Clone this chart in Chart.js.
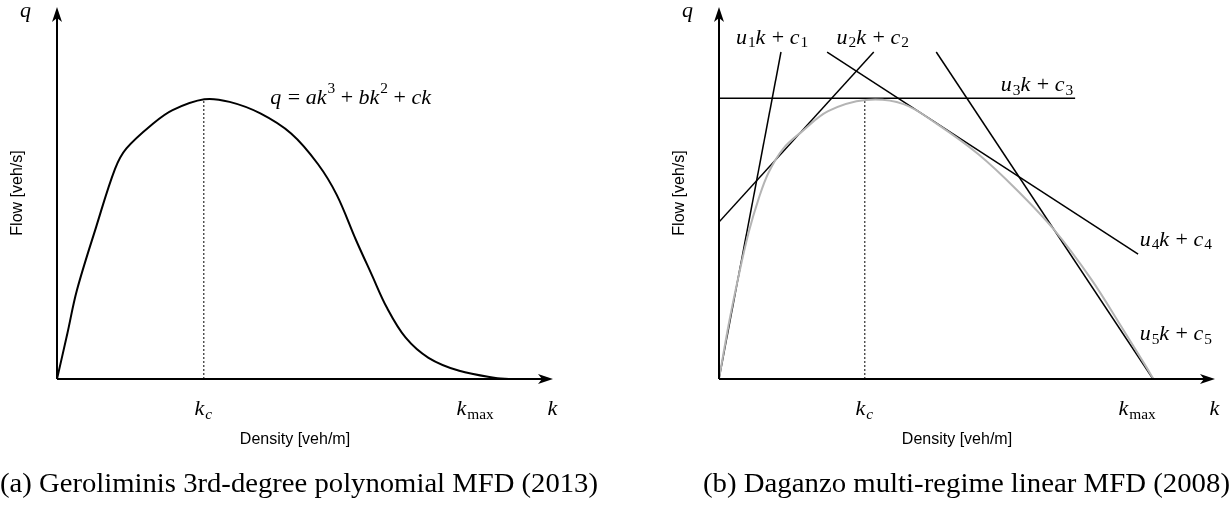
<!DOCTYPE html>
<html>
<head>
<meta charset="utf-8">
<script src="https://cdn.jsdelivr.net/npm/chart.js@4/dist/chart.umd.min.js"></script>
<style>
    html, body { margin: 0; padding: 0; background: #fff; }
    #wrap { position: relative; width: 1230px; height: 506px; overflow: hidden; }
    canvas { position: absolute; top: 0; }
    #left { left: 0; }
    #right { left: 615px; }
</style>
</head>
<body>
<div id="wrap">
    <canvas id="left" width="615" height="506"></canvas>
    <canvas id="right" width="615" height="506"></canvas>
</div>
<script>
// density k (0..100 = arrow tip) and flow q (0..100 = arrow tip)

// (a) cubic MFD
const polyK = [0, 2.1, 4.0, 7.9, 11.7, 14.0, 19.4, 23.3, 29.7, 34.8, 41.0, 47.2, 52.6, 56.4, 60.3, 63.4, 66.5, 70.3, 74.9, 81.1, 88.8, 91.1]
const polyQ = [0, 12.3, 23.8, 40.9, 56.5, 62.0, 68.7, 72.3, 75.2, 74.5, 71.4, 66.0, 57.8, 49.5, 37.3, 28.2, 19.2, 11.1, 5.7, 2.2, 0.2, 0]
const polyKc = 29.6
const polyQmax = 75.2

// (b) multi-regime linear MFD, grey reference curve
const grayK = [0, 2.0, 4.0, 6.0, 8.0, 10.0, 13.0, 16.7, 22.0, 29.6, 37.2, 44.0, 52.3, 59.9, 67.5, 75.1, 81.1, 85.7, 87.6]
const grayQ = [0, 15.0, 28.0, 39.5, 48.5, 55.5, 62.0, 66.5, 72.0, 75.0, 73.9, 68.5, 60.4, 51.0, 40.2, 26.7, 14.1, 4.2, 0]
const grayKc = 29.4
const grayQmax = 75.0

// regime lines u_i k + c_i, drawn as segments
const regimeStartK = [0, 0, 0, 21.8, 43.8]
const regimeStartQ = [0, 42.2, 75.5, 87.9, 87.9]
const regimeEndK = [12.5, 31.2, 71.8, 84.5, 87.5]
const regimeEndQ = [87.9, 87.9, 75.5, 33.6, 0]

const xTitle = 'Density [veh/m]'
const yTitle = 'Flow [veh/s]'
const captionA = '(a) Geroliminis 3rd-degree polynomial MFD (2013)'
const captionB = '(b) Daganzo multi-regime linear MFD (2008)'

const MATH = 'Liberation Serif'

function toPoints(xs, ys) {
    return xs.map((x, i) => ({ x: x, y: ys[i] }))
}

// draws a list of text runs centred on (cx, cy)
function drawRuns(ctx, runs, cx, cy, size) {
    let total = 0
    const parts = runs.map(r => {
        const sz = r.sub || r.sup ? size * 0.7 : size
        const font = (r.it ? 'italic ' : '') + sz + 'px "' + MATH + '"'
        ctx.font = font
        const w = ctx.measureText(r.t).width + (r.it ? 1 : 0)
        total += w
        return { t: r.t, font: font, w: w, dy: r.sub ? size * 0.25 : (r.sup ? -size * 0.38 : 0) }
    })
    let x = cx - total / 2
    ctx.textAlign = 'left'
    ctx.textBaseline = 'middle'
    parts.forEach(p => {
        ctx.font = p.font
        ctx.fillText(p.t, x, cy + p.dy)
        x += p.w
    })
}

function arrow(ctx, x, y, dir) {
    ctx.save()
    ctx.translate(x, y)
    if (dir === 'up') ctx.rotate(-Math.PI / 2)
    ctx.beginPath()
    ctx.moveTo(0, 0)
    ctx.lineTo(-15, -5)
    ctx.lineTo(-11, 0)
    ctx.lineTo(-15, 5)
    ctx.closePath()
    ctx.fill()
    ctx.restore()
}

function decorPlugin(labels, caption, captionW) {
    return {
        id: 'decor',
        afterDraw(chart) {
            const ctx = chart.ctx
            const sx = chart.scales.x
            const sy = chart.scales.y
            const x0 = sx.getPixelForValue(0)
            const y0 = sy.getPixelForValue(0)
            const xEnd = sx.getPixelForValue(100)
            const yEnd = sy.getPixelForValue(100)
            ctx.save()
            ctx.fillStyle = '#000'
            ctx.strokeStyle = '#000'
            ctx.lineWidth = 2
            ctx.beginPath()
            ctx.moveTo(x0, y0)
            ctx.lineTo(xEnd - 10, y0)
            ctx.moveTo(x0, y0)
            ctx.lineTo(x0, yEnd + 10)
            ctx.stroke()
            arrow(ctx, xEnd, y0, 'right')
            arrow(ctx, x0, yEnd, 'up')

            // math labels
            labels.forEach(l => {
                drawRuns(ctx, l.runs, sx.getPixelForValue(l.x) + (l.dx || 0), sy.getPixelForValue(l.y) + (l.dy || 0), 22)
            })
            drawRuns(ctx, [{ t: 'q', it: true }], x0 - 31, yEnd + 4, 22)
            drawRuns(ctx, [{ t: 'k', it: true }], xEnd, y0 + 30, 22)

            // axis titles
            ctx.fillStyle = '#000'
            ctx.font = '16px "Liberation Sans"'
            ctx.textAlign = 'center'
            ctx.textBaseline = 'middle'
            ctx.fillText(xTitle, (x0 + xEnd) / 2 - 10, y0 + 61)
            ctx.save()
            ctx.translate(x0 - 39, (y0 + yEnd) / 2)
            ctx.rotate(-Math.PI / 2)
            ctx.fillText(yTitle, 0, 0)
            ctx.restore()

            // caption
            ctx.font = '27px "Liberation Serif"'
            const w = ctx.measureText(caption).width
            ctx.save()
            ctx.translate(captionW.left, y0 + 106)
            ctx.scale(captionW.width / w, 1)
            ctx.textAlign = 'left'
            ctx.fillText(caption, 0, 0)
            ctx.restore()
            ctx.restore()
        }
    }
}

function baseOptions(padding) {
    return {
        responsive: false,
        animation: false,
        devicePixelRatio: 1,
        layout: { padding: padding },
        plugins: { legend: { display: false }, tooltip: { enabled: false } },
        scales: {
            x: { type: 'linear', display: false, min: 0, max: 100 },
            y: { type: 'linear', display: false, min: 0, max: 100 }
        }
    }
}

function createChart(ctx, datasets, options, plugin) {
    return new Chart(ctx, {
        type: 'scatter',
        data: { datasets: datasets },
        options: options,
        plugins: [plugin]
    })
}

const kcRuns = [{ t: 'k', it: true }, { t: 'c', it: true, sub: true }]
const kmaxRuns = [{ t: 'k', it: true }, { t: 'max', sub: true }]

createChart(
    document.getElementById('left').getContext('2d'),
    [
        {
            data: toPoints(polyK, polyQ),
            showLine: true,
            borderColor: '#000',
            borderWidth: 2,
            pointRadius: 0,
            tension: 0.35
        },
        {
            data: [{ x: polyKc, y: 0 }, { x: polyKc, y: polyQmax }],
            showLine: true,
            borderColor: '#000',
            borderWidth: 1,
            borderDash: [2, 2],
            pointRadius: 0
        }
    ],
    baseOptions({ left: 57, right: 62, top: 7, bottom: 127 }),
    decorPlugin([
        { x: 59.3, y: 75.6, runs: [{ t: 'q', it: true }, { t: ' = ' }, { t: 'ak', it: true }, { t: '3', sup: true }, { t: ' + ' }, { t: 'bk', it: true }, { t: '2', sup: true }, { t: ' + ' }, { t: 'ck', it: true }] },
        { x: polyKc, y: 0, dy: 30, runs: kcRuns },
        { x: 84.3, y: 0, dy: 30, runs: kmaxRuns }
    ], captionA, { left: 0, width: 598 })
)

const regimeSets = regimeStartK.map((k, i) => ({
    data: [{ x: k, y: regimeStartQ[i] }, { x: regimeEndK[i], y: regimeEndQ[i] }],
    showLine: true,
    borderColor: '#000',
    borderWidth: 1.5,
    pointRadius: 0
}))

const sub = n => [{ t: 'u', it: true }, { t: String(n), sub: true }, { t: 'k', it: true }, { t: ' + ' }, { t: 'c', it: true }, { t: String(n), sub: true }]

createChart(
    document.getElementById('right').getContext('2d'),
    [
        {
            data: toPoints(grayK, grayQ),
            showLine: true,
            borderColor: '#b4b4b4',
            borderWidth: 2,
            pointRadius: 0,
            tension: 0.35
        },
        {
            data: [{ x: grayKc, y: 0 }, { x: grayKc, y: grayQmax }],
            showLine: true,
            borderColor: '#000',
            borderWidth: 1,
            borderDash: [2, 2],
            pointRadius: 0
        }
    ].concat(regimeSets),
    baseOptions({ left: 104, right: 15, top: 7, bottom: 127 }),
    decorPlugin([
        { x: 10.7, y: 91.7, runs: sub(1) },
        { x: 31.0, y: 91.7, runs: sub(2) },
        { x: 64.1, y: 79.0, runs: sub(3) },
        { x: 92.1, y: 37.4, runs: sub(4) },
        { x: 92.1, y: 12.1, runs: sub(5) },
        { x: grayKc, y: 0, dy: 30, runs: kcRuns },
        { x: 84.3, y: 0, dy: 30, runs: kmaxRuns }
    ], captionB, { left: 88, width: 527 })
)
</script>
</body>
</html>
